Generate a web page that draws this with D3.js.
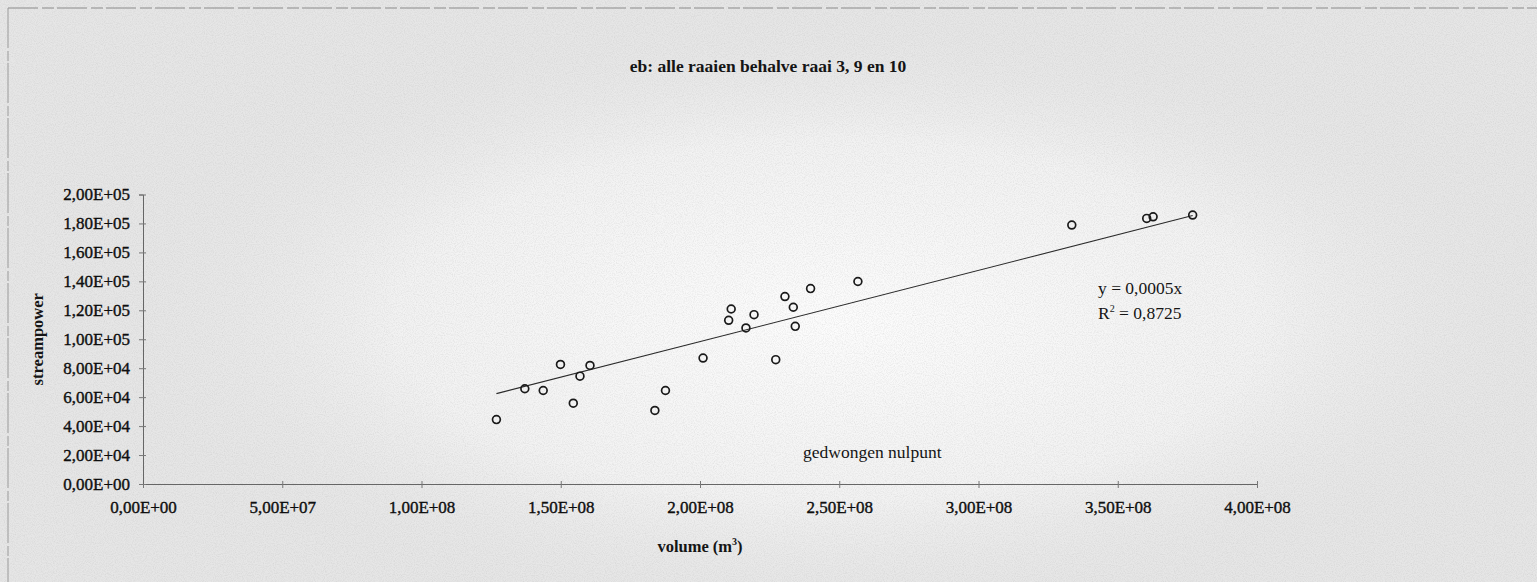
<!DOCTYPE html>
<html>
<head>
<meta charset="utf-8">
<script src="https://cdn.jsdelivr.net/npm/d3@7"></script>
<style>
  html, body { margin: 0; padding: 0; background: #e6e6e6; }
  svg { display: block; }
  text { font-family: "Liberation Serif", "Times New Roman", serif; fill: #151515; }
</style>
</head>
<body>
<script>
// Data
const volume = [1.269e8, 1.371e8, 1.437e8, 1.499e8, 1.545e8, 1.569e8, 1.605e8, 1.838e8,
                1.876e8, 2.011e8, 2.103e8, 2.112e8, 2.165e8, 2.194e8, 2.272e8, 2.305e8,
                2.335e8, 2.342e8, 2.397e8, 2.567e8, 3.335e8, 3.604e8, 3.627e8, 3.769e8];
const streampower = [44.5e3, 65.8e3, 64.6e3, 82.6e3, 55.8e3, 74.5e3, 81.9e3, 50.8e3,
                     64.6e3, 87.0e3, 113.1e3, 120.9e3, 107.8e3, 117.0e3, 85.9e3, 129.5e3,
                     122.1e3, 108.9e3, 135.0e3, 139.9e3, 178.9e3, 183.5e3, 184.6e3, 185.8e3];
const xTicks = [0, 5e7, 1e8, 1.5e8, 2e8, 2.5e8, 3e8, 3.5e8, 4e8];
const yTicks = [0, 2e4, 4e4, 6e4, 8e4, 1e5, 1.2e5, 1.4e5, 1.6e5, 1.8e5, 2e5];
const slope = 0.000492; // trendline through origin, shown as 0,0005

const W = 1537, H = 582;

const svg = d3.select("body").append("svg")
    .attr("width", W)
    .attr("height", H);

// scanned paper look
const defs = svg.append("defs");
const grain = defs.append("filter").attr("id", "grain");
grain.append("feTurbulence").attr("type", "fractalNoise").attr("baseFrequency", 0.9).attr("numOctaves", 2).attr("seed", 3);
grain.append("feColorMatrix").attr("type", "matrix")
    .attr("values", "0 0 0 0 0.4  0 0 0 0 0.4  0 0 0 0 0.4  0 0 0 0.9 -0.35");
const glow = defs.append("radialGradient").attr("id", "glow");
glow.append("stop").attr("offset", "0%").attr("stop-color", "#ffffff").attr("stop-opacity", 0.9);
glow.append("stop").attr("offset", "60%").attr("stop-color", "#fafafa").attr("stop-opacity", 0.6);
glow.append("stop").attr("offset", "100%").attr("stop-color", "#e6e6e6").attr("stop-opacity", 0);

svg.append("rect").attr("width", W).attr("height", H).attr("fill", "#e6e6e6");
svg.append("ellipse").attr("cx", 830).attr("cy", 320).attr("rx", 720).attr("ry", 300).attr("fill", "url(#glow)");
svg.append("rect").attr("width", W).attr("height", H).attr("filter", "url(#grain)").attr("opacity", 0.5);

// page border from the scan
svg.append("line").attr("x1", 8).attr("x2", W).attr("y1", 8).attr("y2", 8)
    .attr("stroke", "#8a8a8a").attr("stroke-dasharray", "30 4 12 3");
svg.append("line").attr("x1", 8).attr("x2", 8).attr("y1", 8).attr("y2", H)
    .attr("stroke", "#9a9a9a").attr("stroke-dasharray", "40 3 10 2");

// Scales
const x = d3.scaleLinear().domain([0, 4e8]).range([143, 1257]);
const y = d3.scaleLinear().domain([0, 2e5]).range([484, 194.5]);

// Excel style scientific format: 1,50E+08
function sci(v) {
    if (v === 0) return "0,00E+00";
    const e = Math.floor(Math.log10(v));
    const m = (v / Math.pow(10, e)).toFixed(2).replace(".", ",");
    return m + "E+" + String(e).padStart(2, "0");
}

// Axes
const gx = svg.append("g")
    .attr("transform", `translate(0,${y(0)})`)
    .call(d3.axisBottom(x).tickValues(xTicks).tickFormat(sci).tickSize(4).tickPadding(13));
gx.selectAll(".tick line").attr("y1", -3).attr("y2", 4);

const gy = svg.append("g")
    .attr("transform", `translate(${x(0)},0)`)
    .call(d3.axisLeft(y).tickValues(yTicks).tickFormat(sci).tickSize(4).tickPadding(9));
gy.selectAll(".tick line").attr("x1", 3).attr("x2", -4);

[gx, gy].forEach(g => {
    g.select(".domain").attr("stroke", "#666").attr("stroke-width", 1);
    g.selectAll(".tick line").attr("stroke", "#777");
    g.selectAll("text")
        .attr("font-family", "'Liberation Serif', serif")
        .attr("font-size", "17px")
        .attr("fill", "#000")
        .attr("stroke", "#000")
        .attr("stroke-width", 0.35);
});

// Trendline
const xr = d3.extent(volume);
svg.append("line")
    .attr("x1", x(xr[0])).attr("y1", y(slope * xr[0]))
    .attr("x2", x(xr[1])).attr("y2", y(slope * xr[1]))
    .attr("stroke", "#2a2a2a")
    .attr("stroke-width", 1.1);

// Points
svg.selectAll(".pt")
    .data(volume.map((v, i) => [v, streampower[i]]))
    .enter()
    .append("circle")
    .attr("class", "pt")
    .attr("cx", d => x(d[0]))
    .attr("cy", d => y(d[1]))
    .attr("r", 3.9)
    .attr("fill", "none")
    .attr("stroke", "#1a1a1a")
    .attr("stroke-width", 1.7);

// Texts
svg.append("text")
    .attr("x", 768).attr("y", 72)
    .attr("text-anchor", "middle")
    .attr("font-size", "17.5px")
    .attr("font-weight", "bold")
    .text("eb: alle raaien behalve raai 3, 9 en 10");

svg.append("text")
    .attr("transform", `translate(43,${(y(0) + y(2e5)) / 2}) rotate(-90)`)
    .attr("text-anchor", "middle")
    .attr("font-size", "16.5px")
    .attr("font-weight", "bold")
    .text("streampower");

const xt = svg.append("text")
    .attr("x", 700).attr("y", 552)
    .attr("text-anchor", "middle")
    .attr("font-size", "16.5px")
    .attr("font-weight", "bold");
xt.append("tspan").text("volume (m");
xt.append("tspan").attr("dy", -7).attr("font-size", "10px").text("3");
xt.append("tspan").attr("dy", 7).text(")");

svg.append("text")
    .attr("x", 1098).attr("y", 294)
    .attr("font-size", "17.5px")
    .text("y = 0,0005x");

const r2 = svg.append("text")
    .attr("x", 1098).attr("y", 319)
    .attr("font-size", "17.5px");
r2.append("tspan").text("R");
r2.append("tspan").attr("dy", -7).attr("font-size", "10px").text("2");
r2.append("tspan").attr("dy", 7).text(" = 0,8725");

svg.append("text")
    .attr("x", 803).attr("y", 458)
    .attr("font-size", "17.5px")
    .text("gedwongen nulpunt");
</script>
</body>
</html>
